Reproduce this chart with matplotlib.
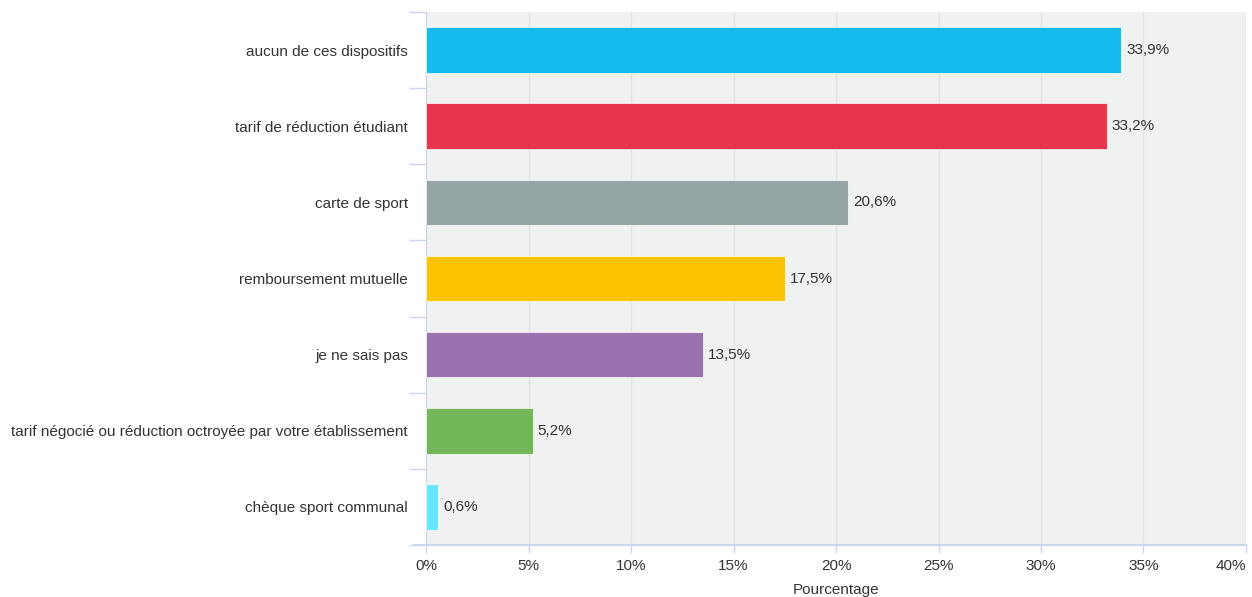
import numpy as np
import matplotlib
matplotlib.use('Agg')
import matplotlib.pyplot as plt

plt.rcParams['font.family'] = ['Liberation Sans', 'DejaVu Sans']

# donnees
categories = ['aucun de ces dispositifs', 'tarif de réduction étudiant', 'carte de sport',
              'remboursement mutuelle', 'je ne sais pas',
              'tarif négocié ou réduction octroyée par votre établissement',
              'chèque sport communal']
valeurs = [33.9, 33.2, 20.6, 17.5, 13.5, 5.2, 0.6]
couleurs = ['#15bbee', '#e8344e', '#95a5a6', '#fbc200', '#9b72b0', '#72b85a', '#67e6fd']
xticks = [0, 5, 10, 15, 20, 25, 30, 35, 40]

fs = 11

fig = plt.figure(figsize=(12.52, 5.97), dpi=100)
ax = fig.add_axes([0.3403, 0.0871, 0.6549, 0.8928])
ax.set_facecolor('#f0f1f1')

y = np.arange(len(categories))
ax.barh(y, valeurs, height=0.6, color=couleurs, edgecolor='white', linewidth=0.5, zorder=3)

for yi, v in zip(y, valeurs):
    ax.text(v + 0.25, yi, ('%.1f%%' % v).replace('.', ','), va='center', ha='left',
            fontsize=fs, color='#333333', zorder=4)

ax.set_ylim(len(categories) - 0.5, -0.5)
ax.set_xlim(0, 40)
ax.set_xticks(xticks)
ax.set_xticklabels(['%d%%' % t for t in xticks], fontsize=fs, color='#333333')
ax.get_xticklabels()[-1].set_horizontalalignment('right')
ax.set_yticks(y)
ax.set_yticklabels(categories, fontsize=fs, color='#333333')
ax.tick_params(axis='y', length=0, pad=13)
ax.set_yticks(np.arange(-0.5, len(categories) + 0.5, 1), minor=True)
ax.tick_params(axis='y', which='minor', length=12, color='#ccd6eb', width=1)
ax.tick_params(axis='x', length=6, color='#ccd6eb', width=1, pad=4)
ax.grid(axis='x', color='#e0e3e8', linewidth=1, zorder=0)

for s in ['top', 'right']:
    ax.spines[s].set_visible(False)
ax.spines['left'].set_color('#ccd6eb')
ax.spines['bottom'].set_color('#ccd6eb')
ax.spines['bottom'].set_linewidth(1.5)
ax.spines['bottom'].set_bounds(-0.6, 40)

ax.set_xlabel('Pourcentage', fontsize=fs, color='#333333', labelpad=7)

fig.savefig('out.png', dpi=100)
